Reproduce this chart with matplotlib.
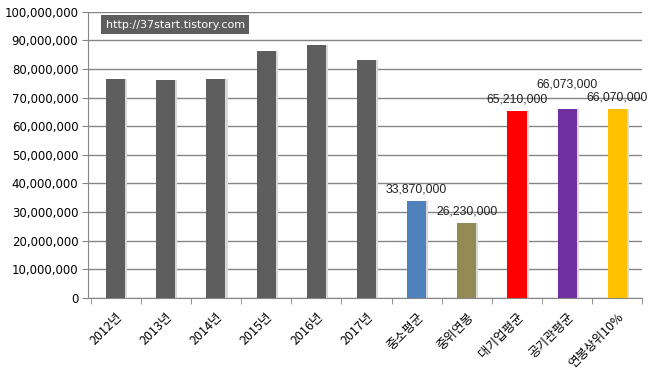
import matplotlib
matplotlib.use("Agg")
from matplotlib import pyplot as plt
from matplotlib.ticker import FuncFormatter, MultipleLocator

# 연봉 비교 데이터
cats = ['2012년', '2013년', '2014년', '2015년', '2016년', '2017년',
        '중소평균', '중위연봉', '대기업평균', '공기관평균', '연봉상위10%']
vals = [76600000, 76200000, 76600000, 86400000, 88400000, 83200000,
        33870000, 26230000, 65210000, 66073000, 66070000]
colors = ['#5e5e5e'] * 6 + ['#4f81bd', '#948a54', '#ff0000', '#7030a0', '#ffc000']
labeled = [6, 7, 8, 9, 10]
label_off = {6: (0, 4), 7: (0, 4), 8: (0, 4), 9: (0, 13), 10: (0, 4)}

plt.rcParams['font.family'] = ['DejaVu Sans']

fig = plt.figure(figsize=(6.53, 3.79), dpi=100)
ax = fig.add_axes([0.1348, 0.2145, 0.849, 0.7545])

x = list(range(len(cats)))
# 그림자
ax.bar([i + 0.04 for i in x], vals, width=0.38, color='#d9d9d9', zorder=2)
ax.bar(x, vals, width=0.38, color=colors, zorder=3)

for i in labeled:
    dx, dy = label_off[i]
    ax.annotate(f'{vals[i]:,}', (x[i], vals[i]), xytext=(dx, dy),
                textcoords='offset points', ha='center', va='bottom',
                fontsize=8.8, family='Liberation Sans', color='#222222')

ax.set_ylim(0, 100000000)
ax.set_xlim(-0.55, 10.45)
ax.yaxis.set_major_locator(MultipleLocator(10000000))
ax.yaxis.set_major_formatter(FuncFormatter(lambda v, p: f'{int(v):,}'))
ax.grid(axis='y', color='#868686', linewidth=1, zorder=0)

for s in ['top', 'right']:
    ax.spines[s].set_visible(False)
ax.spines['left'].set_color('#868686')
ax.spines['bottom'].set_color('#868686')

ax.tick_params(axis='y', length=4, color='#868686', labelsize=8.5, pad=3)
ax.set_xticks(x)
ax.set_xticklabels(cats, rotation=45, ha='right', rotation_mode='anchor',
                   fontsize=9, family=['Noto Sans CJK KR', 'DejaVu Sans'])
ax.tick_params(axis='x', length=0, pad=9)
ax.set_xticks([i + 0.5 for i in range(-1, len(cats))], minor=True)
ax.tick_params(axis='x', which='minor', length=4, color='#868686')

fig.text(0.162, 0.935, 'http://37start.tistory.com', fontsize=8, color='white',
         va='center', ha='left',
         bbox=dict(boxstyle='square,pad=0.4', facecolor='#5e5e5e', edgecolor='none'))

fig.savefig('out.png', dpi=100)
